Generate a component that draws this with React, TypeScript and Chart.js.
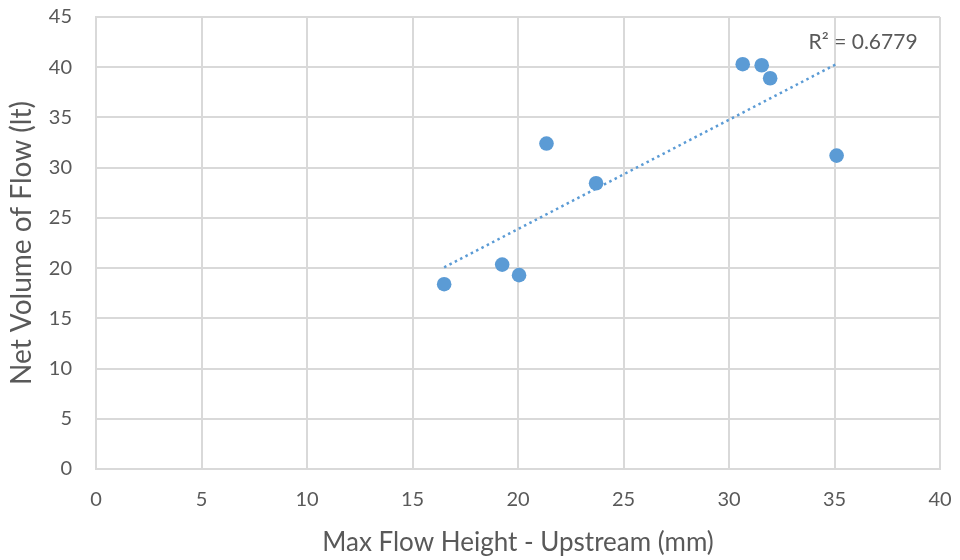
import React, { useEffect, useRef } from "react";
import { Chart, registerables } from "chart.js";

Chart.register(...registerables);

// Measured runs: upstream max flow height (mm) vs. net flow volume (lt)
const flowHeight = [16.5, 19.25, 20.05, 21.35, 23.7, 30.65, 31.55, 31.95, 35.1];
const netVolume = [18.4, 20.35, 19.3, 32.4, 28.45, 40.3, 40.2, 38.9, 31.2];

const xTicks = { min: 0, max: 40, step: 5 };
const yTicks = { min: 0, max: 45, step: 5 };

const rSquaredLabel = "R² = 0.6779";

const blue = "#5B9BD5";
const textGrey = "#595959";
const gridGrey = "#d9d9d9";
const fontFamily = "Lato, 'Open Sans', sans-serif";

// Least-squares fit, drawn from the smallest to the largest x
function linearFit(xs: number[], ys: number[]) {
  const n = xs.length;
  const mx = xs.reduce((a, b) => a + b, 0) / n;
  const my = ys.reduce((a, b) => a + b, 0) / n;
  let sxy = 0;
  let sxx = 0;
  for (let i = 0; i < n; i++) {
    sxy += (xs[i] - mx) * (ys[i] - my);
    sxx += (xs[i] - mx) * (xs[i] - mx);
  }
  const slope = sxy / sxx;
  const intercept = my - slope * mx;
  const x0 = Math.min(...xs);
  const x1 = Math.max(...xs);
  return [
    { x: x0, y: intercept + slope * x0 },
    { x: x1, y: intercept + slope * x1 },
  ];
}

export default function App() {
  const canvasRef = useRef<HTMLCanvasElement | null>(null);

  useEffect(() => {
    document.body.style.margin = "0";
    const canvas = canvasRef.current;
    if (!canvas) return;

    const points = flowHeight.map((x, i) => ({ x, y: netVolume[i] }));
    const trend = linearFit(flowHeight, netVolume);

    const trendLabel = {
      id: "trendLabel",
      afterDatasetsDraw(chart: any) {
        const { ctx, scales } = chart;
        const end = trend[1];
        const px = scales.x.getPixelForValue(end.x);
        const py = scales.y.getPixelForValue(end.y);
        ctx.save();
        ctx.font = `21px ${fontFamily}`;
        ctx.fillStyle = textGrey;
        ctx.textAlign = "left";
        ctx.textBaseline = "alphabetic";
        ctx.fillText(rSquaredLabel, px - 28, py - 15);
        ctx.restore();
      },
    };

    const chart = new Chart(canvas, {
      type: "scatter",
      data: {
        datasets: [
          {
            label: "Trend",
            data: trend,
            showLine: true,
            borderColor: blue,
            borderWidth: 2.5,
            borderDash: [2.5, 3.5],
            pointRadius: 0,
            fill: false,
            order: 2,
          } as any,
          {
            label: "Runs",
            data: points,
            backgroundColor: blue,
            borderColor: blue,
            pointRadius: 7.3,
            pointBorderWidth: 0,
            order: 1,
          },
        ],
      },
      options: {
        animation: false,
        responsive: false,
        maintainAspectRatio: false,
        layout: { padding: { top: 17, right: 20, left: 0, bottom: 0 } },
        plugins: {
          legend: { display: false },
          tooltip: { enabled: false },
        },
        scales: {
          x: {
            type: "linear",
            min: xTicks.min,
            max: xTicks.max,
            grid: { color: gridGrey, lineWidth: 2, drawTicks: false },
            border: { color: gridGrey, width: 2 },
            ticks: {
              stepSize: xTicks.step,
              color: textGrey,
              padding: 19,
              font: { family: fontFamily, size: 20 },
            },
            title: {
              display: true,
              text: "Max Flow Height - Upstream (mm)",
              color: textGrey,
              font: { family: fontFamily, size: 26 },
              padding: { top: 0, bottom: 2 },
            },
            afterFit: (s: any) => {
              s.height = 91;
              s.paddingLeft = 0;
              s.paddingRight = 0;
            },
          },
          y: {
            type: "linear",
            min: yTicks.min,
            max: yTicks.max,
            grid: { color: gridGrey, lineWidth: 2, drawTicks: false },
            border: { color: gridGrey, width: 2 },
            ticks: {
              stepSize: yTicks.step,
              color: textGrey,
              padding: 24,
              font: { family: fontFamily, size: 20 },
            },
            title: {
              display: true,
              text: "Net Volume of Flow (lt)",
              color: textGrey,
              font: { family: fontFamily, size: 28 },
              padding: { top: 5, bottom: 0 },
            },
            afterFit: (s: any) => {
              s.width = 96;
              s.paddingTop = 0;
              s.paddingBottom = 0;
            },
          },
        },
      },
      plugins: [trendLabel],
    });

    return () => chart.destroy();
  }, []);

  return (
    <div style={{ width: 960, height: 560, background: "#fff" }}>
      <canvas ref={canvasRef} width={960} height={560} />
    </div>
  );
}
